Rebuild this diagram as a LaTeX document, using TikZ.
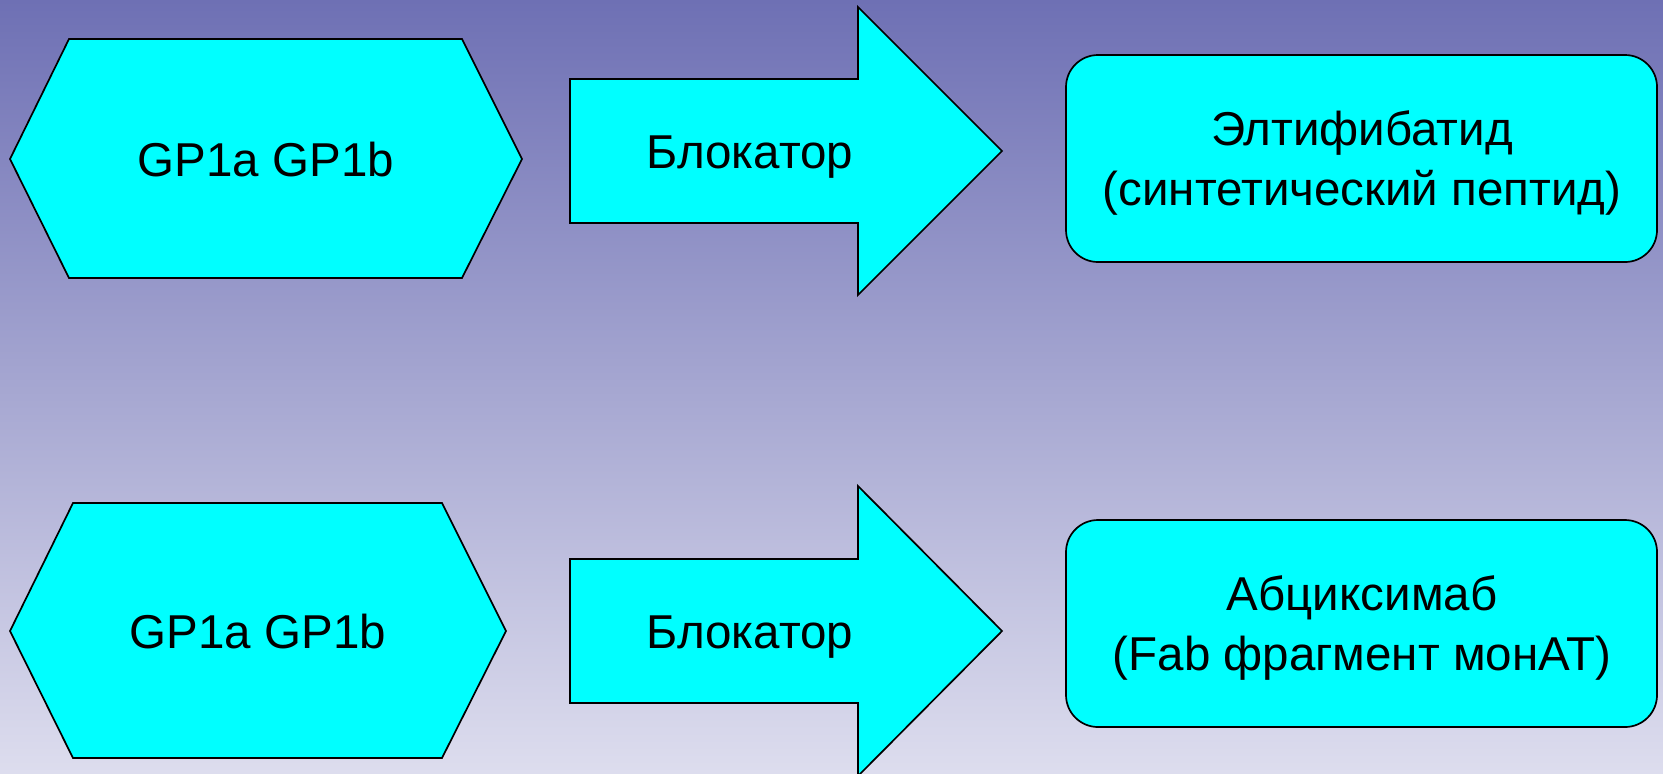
\documentclass[tikz,border=0pt]{standalone}
\usepackage{fontspec}
\setmainfont{Liberation Sans}
\definecolor{bgtop}{RGB}{110,112,180}
\definecolor{bgbottom}{RGB}{221,221,238}
\definecolor{shapecyan}{HTML}{00FFFF}

\begin{document}
\begin{tikzpicture}[
    x=0.5pt, y=-0.5pt,
    shapebox/.style={draw=black, line width=0.85pt, fill=shapecyan, line join=miter},
    lbl/.style={font=\fontsize{23.75}{30}\selectfont, align=center, inner sep=0pt, anchor=base},
  ]
    % --- Background ---
    \shade[top color=bgtop, bottom color=bgbottom] (0,0) rectangle (1663,773);
    \useasboundingbox (0,0) rectangle (1663,773);

    % --- Top row ---
    \draw[shapebox] (10,159) -- (69,39) -- (462,39) -- (522,159) -- (462,278) -- (69,278) -- cycle;
    \draw[shapebox] (570,79) -- (858,79) -- (858,7) -- (1002,151) -- (858,295) -- (858,223) -- (570,223) -- cycle;
    \draw[shapebox, rounded corners=16pt] (1066,55) rectangle (1657,262);
    \node[lbl] (gpTop)    at (266,176)  {GP1a GP1b};
    \node[lbl] (blockTop) at (750,168)  {Блокатор};
    \node[lbl] (drugTop)  at (1362,205) {Элтифибатид\\(синтетический пептид)};

    % --- Bottom row ---
    \draw[shapebox] (10,631) -- (73,503) -- (442,503) -- (506,631) -- (442,758) -- (73,758) -- cycle;
    \draw[shapebox] (570,559) -- (858,559) -- (858,486) -- (1002,631) -- (858,776) -- (858,703) -- (570,703) -- cycle;
    \draw[shapebox, rounded corners=16pt] (1066,520) rectangle (1657,727);
    \node[lbl] (gpBot)    at (258,648)  {GP1a GP1b};
    \node[lbl] (blockBot) at (750,648)  {Блокатор};
    \node[lbl] (drugBot)  at (1362,670) {Абциксимаб\\(Fab фрагмент монАТ)};
  \end{tikzpicture}
\end{document}
